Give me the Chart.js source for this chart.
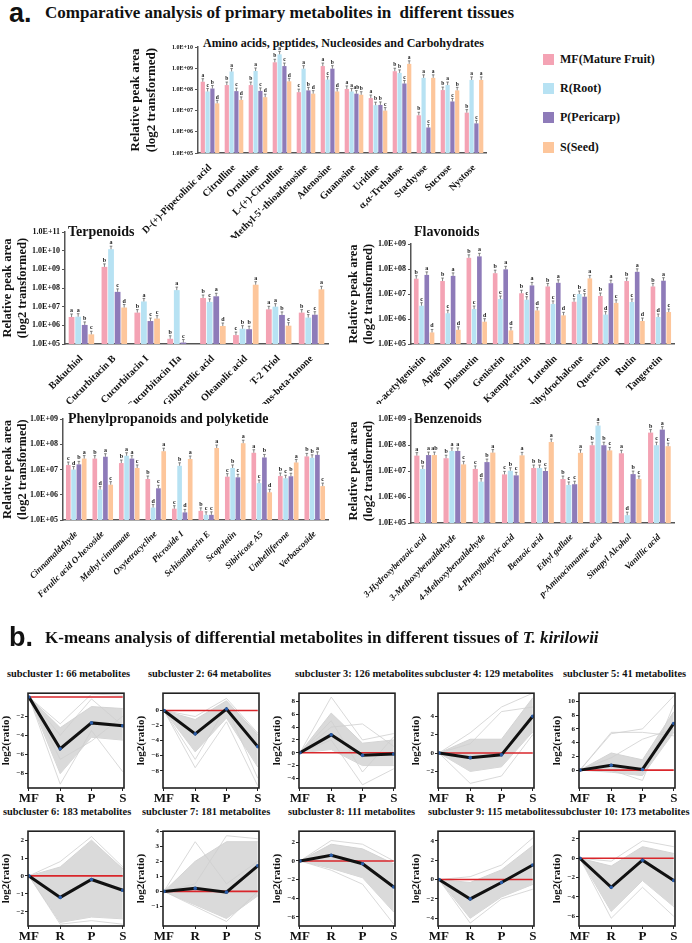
<!DOCTYPE html>
<html>
<head>
<meta charset="utf-8">
<script src="https://cdn.jsdelivr.net/npm/chart.js@4.4.1/dist/chart.umd.min.js"></script>
<style>
  body { margin: 0; width: 692px; height: 943px; position: relative; overflow: hidden; background: #fff;
         font-family: "Liberation Serif", "Times New Roman", serif; color: #111; }
  .box { position: absolute; }
  .txt { position: absolute; font-weight: bold; white-space: nowrap; line-height: 1; }
  .panel { position: absolute; font-family: "Liberation Sans", Arial, sans-serif; font-weight: bold; line-height: 1; }
  .sw { position: absolute; width: 11px; height: 11px; }
</style>
</head>
<body>

<div class="panel" style="left:9px;top:0px;font-size:27px;">a.</div>
<div class="txt" style="left:45px;top:4px;font-size:17px;">Comparative analysis of primary metabolites in&nbsp; different tissues</div>

<div class="txt" style="left:203px;top:37px;font-size:12px;">Amino acids, peptides, Nucleosides and Carbohydrates</div>
<div class="box" style="left:128px;top:40px;width:364px;height:198px;"><canvas id="amino"></canvas></div>

<div class="sw" style="left:543px;top:54px;background:#F4A3B4"></div>
<div class="txt" style="left:560px;top:53px;font-size:12px;">MF(Mature Fruit)</div>
<div class="sw" style="left:543px;top:83px;background:#B7E2F3"></div>
<div class="txt" style="left:560px;top:82px;font-size:12px;">R(Root)</div>
<div class="sw" style="left:543px;top:112px;background:#8E7BB9"></div>
<div class="txt" style="left:560px;top:111px;font-size:12px;">P(Pericarp)</div>
<div class="sw" style="left:543px;top:142px;background:#FDC69B"></div>
<div class="txt" style="left:560px;top:141px;font-size:12px;">S(Seed)</div>

<div class="txt" style="left:68px;top:225px;font-size:14px;">Terpenoids</div>
<div class="box" style="left:0px;top:222px;width:336px;height:182px;"><canvas id="terp"></canvas></div>

<div class="txt" style="left:414px;top:225px;font-size:14px;">Flavonoids</div>
<div class="box" style="left:346px;top:222px;width:336px;height:182px;"><canvas id="flav"></canvas></div>

<div class="txt" style="left:68px;top:412px;font-size:14px;">Phenylpropanoids and polyketide</div>
<div class="box" style="left:0px;top:408px;width:336px;height:215px;"><canvas id="phen"></canvas></div>

<div class="txt" style="left:414px;top:412px;font-size:14px;">Benzenoids</div>
<div class="box" style="left:346px;top:408px;width:336px;height:215px;"><canvas id="benz"></canvas></div>

<div class="panel" style="left:9px;top:624px;font-size:27px;">b.</div>
<div class="txt" style="left:45px;top:629px;font-size:17px;">K-means analysis of differential metabolites in different tissues of <i>T. kirilowii</i></div>

<div id="kmeans"></div>

<script>
// ============================================================
//  Primary metabolites (bar charts, log axis) + k-means profiles
// ============================================================

Chart.defaults.font.family = '"Liberation Serif", "Times New Roman", serif';
Chart.defaults.font.weight = 'bold';
Chart.defaults.color = '#111';

// ---- Data: tissues ----
const tissues      = ['MF(Mature Fruit)', 'R(Root)', 'P(Pericarp)', 'S(Seed)'];
const tissueColors = ['#F4A3B4', '#B7E2F3', '#8E7BB9', '#FDC69B'];

// ---- Amino acids, peptides, nucleosides, carbohydrates ----
const aminoLabels = ['D-(+)-Pipecolinic acid', 'Citrulline', 'Ornithine', 'L-(+)-Citrulline',
  "5'-S-Methyl-5'-thioadenosine", 'Adenosine', 'Guanosine', 'Uridine', 'α,α-Trehalose',
  'Stachyose', 'Sucrose', 'Nystose'];
const aminoMF = [2.3e8, 1.6e8, 1.6e8, 1.9e9, 7.4e7, 1.26e9, 1.05e8, 3.9e7, 7.2e8, 6.0e6, 9.3e7, 8.0e6];
const aminoR  = [8.0e7, 7.0e8, 7.4e8, 4.5e9, 9.5e8, 2.9e8, 8.0e7, 1.8e7, 6.0e8, 3.5e8, 1.6e8, 2.8e8];
const aminoP  = [1.1e8, 8.3e7, 8.5e7, 1.26e9, 9.0e7, 9.5e8, 6.3e7, 1.85e7, 1.9e8, 1.6e6, 2.7e7, 2.5e6];
const aminoS  = [2.2e7, 3.2e7, 4.3e7, 2.4e8, 6.3e7, 8.0e7, 5.6e7, 1.0e7, 1.6e9, 3.5e8, 9.0e7, 2.8e8];
const aminoSig = [['a','c','b','d'], ['b','a','c','d'], ['b','a','c','d'], ['b','a','c','d'],
  ['c','a','b','d'], ['a','c','b','d'], ['a','a','ab','b'], ['a','b','b','c'], ['b','b','c','a'],
  ['b','a','c','a'], ['b','a','c','b'], ['b','a','c','a']];

// ---- Terpenoids ----
const terpLabels = ['Bakuchiol', 'Cucurbitacin B', 'Cucurbitacin I', 'Cucurbitacin IIa',
  'Gibberellic acid', 'Oleanolic acid', 'T-2 Triol', 'trans-beta-Ionone'];
const terpMF = [2.8e6, 1.35e9, 4.8e6, 1.9e5, 2.9e7, 3.0e5, 7.2e6, 4.8e6];
const terpR  = [2.9e6, 1.2e10, 1.9e7, 7.7e7, 1.8e7, 6.6e5, 1.0e7, 2.6e6];
const terpP  = [1.05e6, 6.2e7, 1.7e6, 1.2e5, 3.6e7, 6.2e5, 3.6e6, 3.7e6];
const terpS  = [3.3e5, 9.0e6, 2.3e6, null, 9.2e5, 1.5e8, 9.6e5, 8.5e7];
const terpSig = [['a','a','b','c'], ['b','a','c','d'], ['b','a','c','c'], ['b','a','c',''],
  ['b','c','a','d'], ['c','b','b','a'], ['a','a','b','c'], ['b','c','c','a']];

// ---- Flavonoids ----
const flavLabels = ["6'-o-acetylgenistin", 'Apigenin', 'Diosmetin', 'Genistein', 'Kaempferitrin',
  'Luteolin', 'Naringin Dihydrochalcone', 'Quercetin', 'Rutin', 'Tangeretin'];
const flavMF = [4.1e7, 3.3e7, 2.8e8, 6.8e7, 1.07e7, 2.0e7, 4.9e6, 8.3e6, 3.3e7, 2.0e7];
const flavR  = [3.4e6, 1.7e6, 2.5e6, 6.3e6, 5.9e6, 4.0e6, 1.0e7, 1.5e6, 4.8e6, 1.2e6];
const flavP  = [5.8e7, 5.3e7, 3.2e8, 9.7e7, 2.2e7, 2.8e7, 7.8e6, 2.7e7, 7.7e7, 3.4e7];
const flavS  = [2.9e5, 3.7e5, 7.8e5, 3.5e5, 2.2e6, 1.4e6, 4.2e7, 4.4e6, 8.3e5, 1.9e6];
const flavSig = [['b','c','a','d'], ['b','c','a','d'], ['b','c','a','d'], ['b','c','a','d'],
  ['b','c','a','d'], ['b','c','a','d'], ['c','b','c','a'], ['b','d','a','c'], ['b','c','a','d'],
  ['b','d','a','c']];

// ---- Phenylpropanoids and polyketide ----
const phenLabels = ['Cinnamaldehyde', 'Ferulic acid O-hexoside', 'Methyl cinnamate', 'Oxytetracycline',
  'Picroside I', 'Schisantherin E', 'Scopoletin', 'Sibiricose A5', 'Umbelliferone', 'Verbascoside'];
const phenMF = [1.5e7, 2.7e7, 1.8e7, 4.2e6, 2.8e5, 2.3e5, 5.2e6, 4.6e7, 5.5e6, 3.3e7];
const phenR  = [1.0e7, 1.6e6, 3.5e7, 3.1e5, 1.4e7, 1.6e5, 1.15e7, 2.9e6, 4.5e6, 2.9e7];
const phenP  = [1.6e7, 3.2e7, 2.7e7, 1.8e6, 2.0e5, 1.6e5, 4.9e6, 3.0e7, 5.4e6, 3.8e7];
const phenS  = [2.7e7, 2.5e6, 1.15e7, 5.3e7, 2.6e7, 7.1e7, 1.1e8, 1.25e6, 1.9e7, 2.2e6];
const phenSig = [['c','d','b','a'], ['b','d','a','c'], ['b','a','a','c'], ['b','d','c','a'],
  ['c','b','d','a'], ['b','c','c','a'], ['c','b','c','a'], ['a','c','b','d'], ['b','c','b','a'],
  ['b','b','a','c']];

// ---- Benzenoids ----
const benzLabels = ['3-Hydroxybenzoic acid', '3-Methoxybenzaldehyde', '4-Methoxybenzaldehyde',
  '4-Phenylbutyric acid', 'Benzoic acid', 'Ethyl gallate', 'p-Aminocinnamic acid',
  'Sinapyl Alcohol', 'Vanillic acid'];
const benzMF = [3.9e7, 3.1e7, 1.2e7, 7.4e6, 1.3e7, 4.9e6, 9.8e7, 4.8e7, 3.0e8];
const benzR  = [1.2e7, 5.9e7, 3.9e6, 1.02e7, 1.3e7, 2.9e6, 5.6e8, 2.0e5, 9.8e7];
const benzP  = [4.1e7, 5.9e7, 2.2e7, 6.8e6, 1.0e7, 3.1e6, 9.8e7, 7.6e6, 3.9e8];
const benzS  = [4.1e7, 1.8e7, 5.1e7, 4.0e7, 1.3e8, 5.0e7, 6.2e7, 4.9e6, 9.0e7];
const benzSig = [['a','b','a','ab'], ['b','a','a','c'], ['c','d','b','a'], ['c','b','c','a'],
  ['b','b','c','a'], ['b','c','c','a'], ['b','a','b','c'], ['a','d','b','c'], ['b','c','a','c']];

// ---- K-means subclusters (log2 ratio vs MF) ----
const stages        = ['MF', 'R', 'P', 'S'];
const clusterTitles = ['subcluster 1: 66 metabolites', 'subcluster 2: 64 metabolites',
  'subcluster 3: 126 metabolites', 'subcluster 4: 129 metabolites', 'subcluster 5: 41 metabolites',
  'subcluster 6: 183 metabolites', 'subcluster 7: 181 metabolites', 'subcluster 8: 111 metabolites',
  'subcluster 9: 115 metabolites', 'subcluster 10: 173 metabolites'];
const clusterCenter = [[0, -5.4, -2.7, -3.0], [0, -3.1, 0.2, -4.8], [0, 2.8, -0.4, -0.2],
  [0, -0.5, -0.2, 4.0], [0, 0.7, 0.1, 6.8], [0, -1.2, -0.2, -0.8], [0, 0.2, -0.05, 1.7],
  [0, 0.6, -0.3, -2.8], [0, -2.0, -0.3, 1.5], [0, -3.0, -0.2, -2.3]];
// dense part of the grey bundle (upper / lower edge)
const clusterHigh = [[0, -3.2, -1.0, -1.2], [0, -1.2, 1.3, -3.2], [0, 6.2, 1.5, 2.0],
  [0, 1.5, 1.5, 6.0], [0, 2.5, 1.5, 8.5], [0, 0.5, 2.0, 0.4], [0, 2.0, 3.3, 3.3],
  [0, 1.8, 1.3, -0.3], [0, -0.3, 1.0, 3.5], [0, -0.8, 1.2, 0.5]];
const clusterLow = [[0, -8.0, -4.2, -4.5], [0, -5.5, -1.0, -7.5], [0, 0.5, -2.0, -2.0],
  [0, -2.0, -1.5, 2.3], [0, -0.3, -0.8, 5.5], [0, -2.6, -2.3, -2.4], [0, -0.9, -1.8, -0.3],
  [0, -0.8, -1.8, -5.5], [0, -4.0, -1.8, -0.5], [0, -5.5, -2.3, -5.0]];
// single grey profiles outside the dense part
const clusterOutliers = [
  [[0, -2.8, 0.3, 0.2], [0, -9.1, -3.5, -7.8], [0, -4.0, -0.2, -3.0], [0, -6.5, -4.6, -2.0]],
  [[0, -0.8, 1.6, -3.0], [0, -7.6, -1.5, -10.0], [0, -6.5, 0.5, -9.0]],
  [[0, 8.7, 2.0, 3.0], [0, 4.0, 4.5, 1.0], [0, 2.0, -5.0, -2.5], [0, 5.0, -3.0, 2.5]],
  [[0, 2.2, 5.0, 6.5], [0, -3.3, -2.5, 2.0], [0, 1.0, 4.5, 5.0]],
  [[0, 5.5, 5.5, 5.0], [0, 5.3, 6.0, 10.8], [0, 0.0, -1.5, 9.5], [0, 1.8, 4.5, 6.0]],
  [[0, 0.8, 2.2, 0.5], [0, -2.7, -2.5, -2.7]],
  [[0, 3.3, 0.5, 2.0], [0, 0.5, 3.7, 3.5], [0, -1.0, -2.0, 0.0]],
  [[0, 2.2, 1.8, 0.0], [0, -1.0, -2.5, -6.8]],
  [[0, 0.3, 1.5, 4.3], [0, -4.5, -2.0, -1.0]],
  [[0, -0.3, 1.8, 1.2], [0, -6.2, -3.0, -6.0]]];
const clusterYMin  = [-9.5, -10.3, -5.5, -3.8, -2.6, -2.8, -2.3, -7.0, -4.8, -7.0];
const clusterYMax  = [0.4, 2.3, 9.3, 6.5, 11.2, 2.5, 4.0, 3.2, 5.0, 2.8];
const clusterYStep = [2, 2, 2, 2, 2, 1, 1, 2, 2, 2];

// ---- Plugins ----
// significance letters with a short whisker on top of each bar
const sigPlugin = {
  id: 'sig',
  afterDatasetsDraw(chart, args, opts) {
    const ctx = chart.ctx;
    ctx.save();
    chart.data.datasets.forEach((ds, di) => {
      chart.getDatasetMeta(di).data.forEach((bar, i) => {
        if (ds.data[i] == null) return;
        const tip = bar.y - 3;
        ctx.strokeStyle = '#666';
        ctx.lineWidth = 0.8;
        ctx.beginPath();
        ctx.moveTo(bar.x, bar.y); ctx.lineTo(bar.x, tip);
        ctx.moveTo(bar.x - 1.3, tip); ctx.lineTo(bar.x + 1.3, tip);
        ctx.stroke();
        ctx.fillStyle = '#222';
        ctx.font = 'bold ' + opts.size + 'px "Liberation Serif"';
        ctx.textAlign = 'center';
        ctx.textBaseline = 'bottom';
        ctx.fillText(ds.sig[i], bar.x, tip - 0.5);
      });
    });
    ctx.restore();
  }
};

// black frame round the k-means plot area
const framePlugin = {
  id: 'frame',
  afterDraw(chart) {
    const a = chart.chartArea, ctx = chart.ctx;
    ctx.save();
    ctx.strokeStyle = '#222';
    ctx.lineWidth = 1.6;
    ctx.strokeRect(a.left, a.top, a.right - a.left, a.bottom - a.top);
    ctx.restore();
  }
};

// ---- Bar chart builder ----
function barChart(id, labels, series, letters, o) {
  const datasets = series.map((vals, i) => ({
    label: tissues[i],
    data: vals,
    backgroundColor: tissueColors[i],
    sig: letters.map(g => g[i]),
    categoryPercentage: 0.8,
    barPercentage: 0.88
  }));
  const decades = [];
  for (let e = 5; e <= o.maxExp; e++) decades.push(Math.pow(10, e));

  return new Chart(document.getElementById(id), {
    type: 'bar',
    data: { labels, datasets },
    options: {
      responsive: true,
      maintainAspectRatio: false,
      animation: false,
      layout: { padding: { top: o.padTop, right: o.padRight, left: 0, bottom: 0 } },
      plugins: { legend: { display: false }, tooltip: { enabled: false }, sig: { size: o.sigSize } },
      scales: {
        x: {
          grid: { display: false },
          border: { color: '#555', width: 1.5 },
          ticks: { minRotation: 45, maxRotation: 45, autoSkip: false, padding: 1, color: '#111',
                   font: { size: o.xSize, style: o.italic ? 'italic' : 'normal', weight: 'bold' } },
          afterFit: s => { s.height = o.xH; }
        },
        y: {
          type: 'logarithmic',
          min: 1e5,
          max: Math.pow(10, o.maxExp),
          afterBuildTicks: s => { s.ticks = decades.map(v => ({ value: v })); },
          grid: { drawOnChartArea: false, tickLength: 3, color: '#555' },
          border: { color: '#555', width: 1.5 },
          ticks: {
            autoSkip: false, padding: 2, color: '#111',
            font: { size: o.ySize, weight: 'bold' },
            callback: v => '1.0E+' + String(Math.round(Math.log10(v))).padStart(2, '0')
          },
          title: { display: true, text: ['Relative peak area', '(log2 transformed)'],
                   font: { size: o.titleSize, weight: 'bold' }, padding: 0, color: '#111' },
          afterFit: s => { s.width = o.yW; }
        }
      }
    },
    plugins: [sigPlugin]
  });
}

barChart('amino', aminoLabels, [aminoMF, aminoR, aminoP, aminoS], aminoSig,
  { maxExp: 10, padTop: 7, padRight: 6, xH: 85, yW: 70, xSize: 10, ySize: 6, titleSize: 13, sigSize: 5.5 });
barChart('terp', terpLabels, [terpMF, terpR, terpP, terpS], terpSig,
  { maxExp: 11, padTop: 10, padRight: 8, xH: 60, yW: 65, xSize: 10, ySize: 8, titleSize: 12.5, sigSize: 6 });
barChart('flav', flavLabels, [flavMF, flavR, flavP, flavS], flavSig,
  { maxExp: 9, padTop: 22, padRight: 8, xH: 60, yW: 65, xSize: 10, ySize: 8, titleSize: 12.5, sigSize: 6 });
barChart('phen', phenLabels, [phenMF, phenR, phenP, phenS], phenSig,
  { maxExp: 9, padTop: 11, padRight: 8, xH: 103, yW: 63, xSize: 9, ySize: 8, titleSize: 12.5, sigSize: 6, italic: true });
barChart('benz', benzLabels, [benzMF, benzR, benzP, benzS], benzSig,
  { maxExp: 9, padTop: 11, padRight: 8, xH: 100, yW: 65, xSize: 9, ySize: 8, titleSize: 12.5, sigSize: 6, italic: true });

// ---- K-means panels ----
const boxLeft  = [28, 163, 299, 438, 579];
const boxTop   = [688, 826];
const titleX   = [7, 148, 295, 425, 563, 3, 142, 288, 428, 556];
const host = document.getElementById('kmeans');

clusterCenter.forEach((center, k) => {
  const row = Math.floor(k / 5), col = k % 5;
  const left = boxLeft[col] - 28, top = boxTop[row];
  const step = clusterYStep[k];

  const t = document.createElement('div');
  t.className = 'txt';
  t.style.cssText = `left:${titleX[k]}px;top:${top - 19}px;font-size:10.4px;`;
  t.textContent = clusterTitles[k];
  host.appendChild(t);

  const wrap = document.createElement('div');
  wrap.className = 'box';
  wrap.style.cssText = `left:${left}px;top:${top}px;width:128px;height:117px;`;
  const cv = document.createElement('canvas');
  wrap.appendChild(cv);
  host.appendChild(wrap);

  // Chart.js paints dataset 0 on top, so the centre line comes first, the grey band last
  const pts = arr => arr.map((y, i) => ({ x: i, y }));
  const datasets = [
    { data: pts(center), borderColor: '#111', borderWidth: 3, fill: false,
      pointRadius: 1.8, pointBackgroundColor: '#2a5ca8', pointBorderWidth: 0 },
    { data: [{ x: 0, y: 0 }, { x: 3, y: 0 }], borderColor: '#d9262b', borderWidth: 1.6, fill: false, pointRadius: 0 },
    ...clusterOutliers[k].map(p => ({ data: pts(p), borderColor: '#cfcfcf', borderWidth: 0.8, fill: false, pointRadius: 0 })),
    { data: pts(clusterHigh[k]), borderColor: '#d4d4d4', borderWidth: 1, backgroundColor: '#dadada', fill: '+1', pointRadius: 0 },
    { data: pts(clusterLow[k]),  borderColor: '#d4d4d4', borderWidth: 1, fill: false, pointRadius: 0 }
  ];

  new Chart(cv, {
    type: 'line',
    data: { datasets },
    options: {
      responsive: true,
      maintainAspectRatio: false,
      animation: false,
      layout: { padding: { top: 1, right: 2, left: 0, bottom: 0 } },
      plugins: { legend: { display: false }, tooltip: { enabled: false } },
      elements: { line: { tension: 0 } },
      scales: {
        x: {
          type: 'linear', min: -0.03, max: 3.04,
          afterBuildTicks: s => { s.ticks = [0, 1, 2, 3].map(v => ({ value: v })); },
          grid: { drawOnChartArea: false, tickLength: 3, color: '#222' },
          border: { display: false },
          ticks: { padding: 0, font: { size: 13, weight: 'bold' }, color: '#111', callback: v => stages[v] },
          afterFit: s => { s.height = 17; }
        },
        y: {
          min: clusterYMin[k], max: clusterYMax[k],
          afterBuildTicks: s => {
            s.ticks = s.ticks.filter(tk => Math.abs(tk.value / step - Math.round(tk.value / step)) < 1e-6);
          },
          grid: { drawOnChartArea: false, tickLength: 3, color: '#222' },
          border: { display: false },
          ticks: { stepSize: step, padding: 1, font: { size: 7, weight: 'bold' }, color: '#111',
                   callback: v => (v < 0 ? '\u2212' + Math.abs(v) : String(v)) },
          title: { display: true, text: 'log2(ratio)', font: { size: 11, weight: 'bold' }, padding: 0, color: '#111' },
          afterFit: s => { s.width = 28; }
        }
      }
    },
    plugins: [framePlugin]
  });
});
</script>
</body>
</html>
